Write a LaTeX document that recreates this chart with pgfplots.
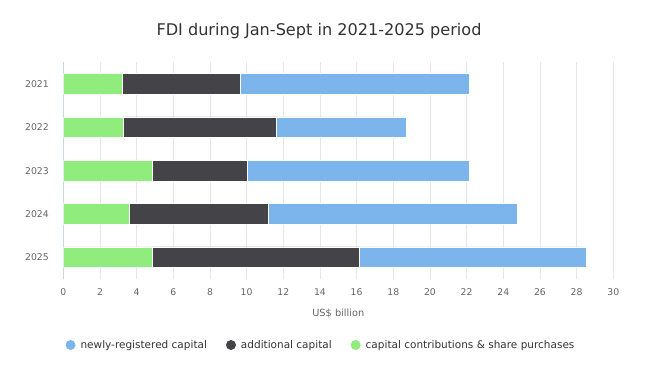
\documentclass[border=0pt]{standalone}
\usepackage{pgfplots}
\pgfplotsset{compat=1.18}
\usepackage{fontspec}
\setmainfont{DejaVu Sans}
\definecolor{cNew}{HTML}{7CB5EC}
\definecolor{cAdd}{HTML}{434348}
\definecolor{cCap}{HTML}{90ED7D}
\definecolor{cGrid}{HTML}{E6E6E6}
\definecolor{cAxis}{HTML}{CCD6EB}
\definecolor{cLab}{HTML}{666666}
\definecolor{cTitle}{HTML}{333333}
\begin{document}
\begin{tikzpicture}[x=1pt,y=1pt]
\path[use as bounding box] (0,0) rectangle (655,374);
\begin{axis}[
  at={(63.3pt,95pt)}, anchor=south west, scale only axis,
  width=550pt, height=216.7pt,
  xbar stacked, bar width=20.7pt,
  xmin=0, xmax=30, xtick={0,2,...,30},
  ymin=-0.5, ymax=4.5, y dir=reverse,
  ytick={0,1,2,3,4}, yticklabels={2021,2022,2023,2024,2025},
  xmajorgrids, grid style={cGrid, line width=0.7pt},
  axis lines*=left,
  x axis line style={draw=none},
  y axis line style={cAxis, line width=0.8pt, -},
  major tick length=0pt,
  tick label style={font=\fontsize{9.3}{10}\selectfont, text=cLab},
  /pgf/number format/assume math mode=true,
  xticklabel style={yshift=-6pt},
  yticklabel style={xshift=-11pt},
  xlabel={US\$ billion},
  xlabel style={at={(axis description cs:0.5,0)}, anchor=center, yshift=-34pt,
    font=\fontsize{9.8}{11}\selectfont, text=cLab},
  legend style={at={(axis description cs:0.4685,-0.3046)}, anchor=center,
    draw=none, fill=none, legend columns=3,
    font=\fontsize{10.5}{12}\selectfont, text=cTitle,
    /tikz/every odd column/.append style={column sep=3pt},
    /tikz/every even column/.append style={column sep=17pt}},
  legend image code/.code={\fill[#1,draw=none] (4pt,0pt) circle (5pt);},
  reverse legend,
]
\addplot[fill=cCap, draw=white, line width=0.6pt] coordinates {(3.24,0) (3.29,1) (4.86,2) (3.58,3) (4.86,4)};
\addlegendentry{capital contributions \& share purchases}
\addplot[fill=cAdd, draw=white, line width=0.6pt] coordinates {(6.40,0) (8.35,1) (5.18,2) (7.62,3) (11.27,4)};
\addlegendentry{additional capital}
\addplot[fill=cNew, draw=white, line width=0.6pt] coordinates {(12.49,0) (7.07,1) (12.13,2) (13.55,3) (12.37,4)};
\addlegendentry{newly-registered capital}
\end{axis}
\node[font=\fontsize{16.1}{19}\selectfont, text=cTitle] at (319,343) {FDI during Jan-Sept in 2021-2025 period};
\end{tikzpicture}
\end{document}
